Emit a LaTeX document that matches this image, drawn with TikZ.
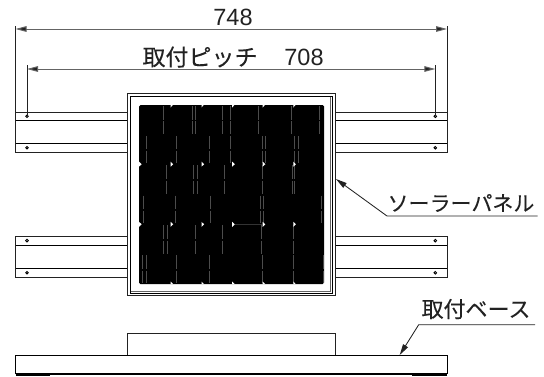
\documentclass[tikz,border=0pt]{standalone}
\usepackage{fontspec}
\setmainfont{Liberation Sans}
\newfontfamily\jpfont[FakeBold=0.1]{Noto Sans CJK JP}
\usetikzlibrary{arrows.meta}
\definecolor{ink}{HTML}{222222}
\tikzset{
  every picture/.style={x=1bp,y=-1bp},
  part/.style={draw=ink,line width=0.95bp},
  thick part/.style={draw=black,line width=1bp},
  dimline/.style={draw=ink!70,line width=1bp,{Triangle[length=11bp,width=5.6bp,fill=ink]}-{Triangle[length=11bp,width=5.6bp,fill=ink]}},
  extline/.style={draw=ink,line width=0.85bp},
  leaderline/.style={draw=ink,line width=0.85bp,{Triangle[length=11bp,width=5.6bp,fill=ink]}-},
  label/.style={inner sep=0pt,text=ink,font=\fontsize{23.5bp}{25bp}\selectfont},
  jplabel/.style={label,font=\jpfont\fontsize{#1bp}{25bp}\selectfont},
  holept/.style={draw=black,line width=0.9bp,fill=white},
  cellgap/.style={draw=white!30!black,line width=0.35bp},
  notch/.style={fill=white,draw=none}
}
\begin{document}
\begin{tikzpicture}
\useasboundingbox (0,0) rectangle (544,376);
% rails
\foreach \xa/\xb/\hx in {15.5/127.5/27,335.5/447/435.3}{
  \foreach \ya/\yb/\yc/\yd in {112/120.5/143.5/152,236.3/245/268.3/277.3}{
    \draw[part] (\xa,\ya) rectangle (\xb,\yd);
    \draw[thick part] (\xa,\yb) -- (\xb,\yb);
    \draw[thick part] (\xa,\yc) -- (\xb,\yc);
    \draw[holept] (\hx,{(\ya+\yb)/2}) circle (1.3);
    \draw[holept] (\hx,{(\yc+\yd)/2}) circle (1.3);
  }
}
% panel
\fill[white] (127.5,93.5) rectangle (335,295.3);
\draw[part] (127.5,93.5) rectangle (335,295.3);
\draw[thick part] (130,96) rectangle (332,293);
\draw[draw=ink!70,line width=0.9bp] (330.8,97) -- (330.8,291.8) -- (131,291.8);
\fill[black,rounded corners=1.5bp] (139,105) rectangle (324,284);
% cell gaps
\foreach \x in {163.3,191.7,195.3,222.3,230,258.3,290.7,319.3}{
  \draw[cellgap] (\x,106) -- (\x,119.5) (\x,121) -- (\x,134);}
\foreach \x in {146.3,176.3,209.3,230.3,261.7,265,294,297.7}{
  \draw[cellgap] (\x,136) -- (\x,149) (\x,150.5) -- (\x,163);}
\foreach \x in {165.7,193.3,197.3,223.7,261.7,291.7,294}{
  \draw[cellgap] (\x,165) -- (\x,179) (\x,180.5) -- (\x,194);}
\foreach \x in {143.3,175,210.3,260,263,320.7}{
  \draw[cellgap] (\x,195.5) -- (\x,209) (\x,210.5) -- (\x,223);}
\foreach \x in {163.3,167.3,195.3,222.3,260.7,293.3}{
  \draw[cellgap] (\x,225) -- (\x,239) (\x,240.5) -- (\x,254);}
\foreach \x in {142.3,146.3,176.3,209.3,262,293.3,323}{
  \draw[cellgap] (\x,255) -- (\x,269) (\x,270.5) -- (\x,283);}
\draw[draw=white!20!black,line width=0.35bp] (235,224.3) -- (262,224.3);
% notches
\foreach \x in {170.6,201.5,232.2,262.7,293.3}{
  \fill[notch] (\x,105) -- (\x+2.2,105) -- (\x,107.5) -- cycle;
  \fill[notch] (\x,161.7) -- (\x+2.6,164.2) -- (\x,166.7) -- cycle;
  \fill[notch] (\x,221.8) -- (\x+2.6,224.3) -- (\x,226.8) -- cycle;
  \fill[notch] (\x,284) -- (\x+2.4,284) -- (\x,281.5) -- cycle;
}
\fill[notch] (139,161.7) -- (141.6,164.2) -- (139,166.7) -- cycle;
\fill[notch] (139,221.8) -- (141.6,224.3) -- (139,226.8) -- cycle;
% base
\draw[part] (127.5,355.5) -- (127.5,333.3) -- (335,333.3) -- (335,355.5);
\draw[thick part] (15.5,355.5) rectangle (447,373);
\draw[draw=black,line width=1bp] (15.5,374.7) -- (447,374.7);
\fill[black] (15.5,374) rectangle (50,376);
\fill[black] (412,374) rectangle (447,376);
% dimension coordinates
\coordinate (oL) at (15.5,29);
\coordinate (oR) at (447,29);
\coordinate (oLe) at (15.5,26);
\coordinate (oRe) at (447,26);
\coordinate (oLb) at (15.5,112);
\coordinate (oRb) at (447,112);
\coordinate (pL) at (27,69);
\coordinate (pR) at (435.3,69);
\coordinate (pLe) at (27,65);
\coordinate (pRe) at (435.3,65);
\coordinate (pLb) at (27,116);
\coordinate (pRb) at (435.3,116);
\draw[extline] (oLe) -- (oLb);
\draw[extline] (oRe) -- (oRb);
\draw[extline] (pLe) -- (pLb);
\draw[extline] (pRe) -- (pRb);
\draw[dimline] (oL) -- (oR);
\draw[dimline] (pL) -- (pR);
% leaders
\coordinate (sTip) at (336,179);
\coordinate (sKnee) at (387,216);
\coordinate (sEnd) at (537.7,216);
\coordinate (bTip) at (399.7,355);
\coordinate (bKnee) at (418.7,324.7);
\coordinate (bEnd) at (535,324.7);
\draw[leaderline] (sTip) -- (sKnee) -- (sEnd);
\draw[leaderline] (bTip) -- (bKnee) -- (bEnd);
% text
\node[label] (dimA) at (233,17) {748};
\node[label] (dimB) at (304,57) {708};
\node[jplabel=23] (pitch) at (200,57) {取付ピッチ};
\node[jplabel=21] (panel) at (461,203) {ソーラーパネル};
\node[jplabel=22] (basel) at (476,309) {取付ベース};
\end{tikzpicture}
\end{document}
